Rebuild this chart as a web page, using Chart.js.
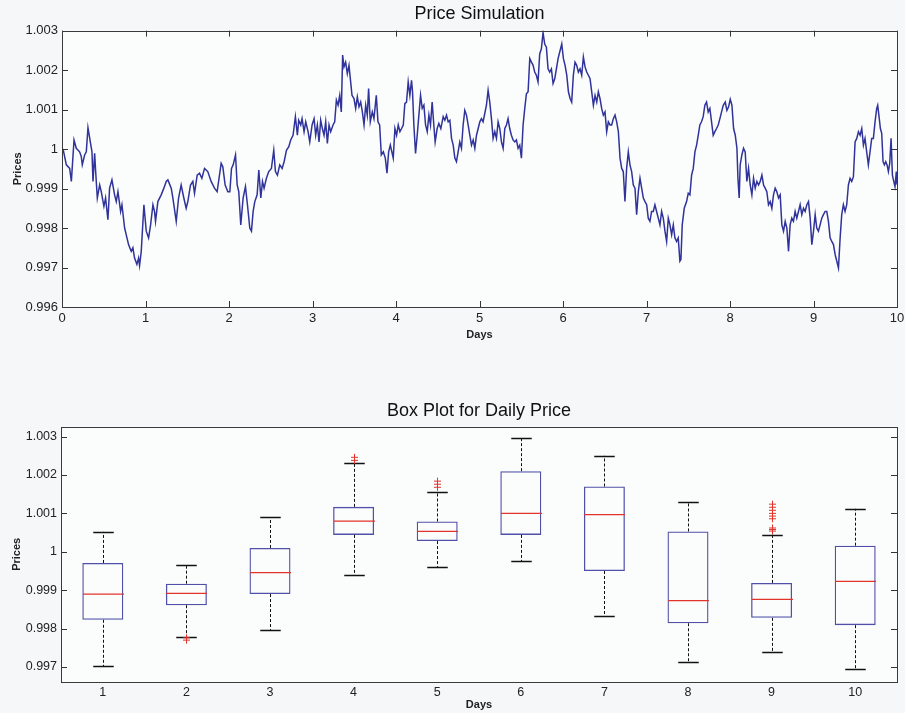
<!DOCTYPE html>
<html>
<head>
<meta charset="utf-8">
<title>Price Simulation</title>
<script src="https://cdn.jsdelivr.net/npm/chart.js@4.4.0/dist/chart.umd.min.js"></script>
<style>
  html, body { margin: 0; padding: 0; background: #f5f7f8; }
  #wrap { position: relative; width: 905px; height: 713px; }
  #simChart { position: absolute; left: 0; top: 0; }
  #boxChart { position: absolute; left: 0; top: 385px; }
</style>
</head>
<body>
<div id="wrap">
  <canvas id="simChart" width="905" height="345"></canvas>
  <canvas id="boxChart" width="905" height="328"></canvas>
</div>
<script>
// Simulação de preço
const days = [
  0.000, 0.016, 0.052, 0.092, 0.112, 0.144, 0.171, 0.211, 0.231, 0.243, 0.271, 0.291, 0.311, 0.339, 0.359, 0.371,
  0.391, 0.403, 0.423, 0.451, 0.470, 0.502, 0.522, 0.550, 0.570, 0.598, 0.630, 0.650, 0.670, 0.702, 0.718, 0.750,
  0.778, 0.797, 0.829, 0.849, 0.869, 0.897, 0.917, 0.929, 0.949, 0.981, 1.009, 1.037, 1.061, 1.089, 1.108, 1.120,
  1.148, 1.188, 1.220, 1.248, 1.268, 1.308, 1.328, 1.368, 1.396, 1.427, 1.459, 1.487, 1.507, 1.539, 1.567, 1.587,
  1.619, 1.647, 1.675, 1.707, 1.746, 1.786, 1.826, 1.858, 1.906, 1.926, 1.954, 1.986,
  2.010, 2.030, 2.050, 2.078, 2.098, 2.117, 2.141, 2.169, 2.197, 2.221, 2.249, 2.269, 2.289, 2.309, 2.337, 2.357,
  2.381, 2.401, 2.420, 2.448, 2.476, 2.508, 2.536, 2.556, 2.580, 2.608, 2.636, 2.660, 2.688, 2.716, 2.739, 2.767,
  2.795, 2.819, 2.835, 2.859, 2.875, 2.899, 2.919, 2.947, 2.967, 2.995, 3.019, 3.038, 3.058, 3.078, 3.098, 3.118,
  3.138, 3.158, 3.178, 3.198, 3.218, 3.246, 3.266, 3.286, 3.306, 3.326, 3.345, 3.361, 3.377, 3.397, 3.417, 3.437,
  3.457, 3.473, 3.497, 3.517, 3.537, 3.557, 3.577, 3.597, 3.617, 3.637, 3.656, 3.672, 3.692, 3.716, 3.736, 3.764,
  3.784, 3.804, 3.824, 3.848, 3.872, 3.892, 3.912, 3.932,
  3.967, 3.987, 4.007, 4.027, 4.047, 4.067, 4.087, 4.106, 4.126, 4.146, 4.166, 4.186, 4.198, 4.214, 4.234, 4.254,
  4.274, 4.294, 4.314, 4.334, 4.354, 4.374, 4.394, 4.413, 4.433, 4.453, 4.469, 4.493, 4.513, 4.537, 4.565, 4.585,
  4.605, 4.625, 4.645, 4.665, 4.685, 4.705, 4.724, 4.744, 4.764, 4.784, 4.804, 4.824, 4.844, 4.864, 4.884, 4.904,
  4.924, 4.944, 4.964, 4.984, 5.004, 5.023, 5.043, 5.063, 5.083, 5.103, 5.123, 5.143, 5.163, 5.183, 5.203, 5.223,
  5.243, 5.263, 5.283, 5.303, 5.323, 5.342, 5.362, 5.382, 5.402, 5.422, 5.442, 5.462, 5.482, 5.502, 5.522, 5.542,
  5.562, 5.582, 5.602, 5.622, 5.642, 5.661, 5.681, 5.701, 5.721, 5.741, 5.761, 5.781, 5.801, 5.821, 5.841, 5.861,
  5.881, 5.901, 5.921, 5.941,
  5.985, 6.005, 6.025, 6.045, 6.065, 6.085, 6.104, 6.124, 6.144, 6.164, 6.184, 6.204, 6.224, 6.244, 6.264, 6.284,
  6.304, 6.324, 6.344, 6.364, 6.384, 6.404, 6.423, 6.443, 6.463, 6.483, 6.503, 6.523, 6.543, 6.563, 6.583, 6.603,
  6.623, 6.643, 6.663, 6.683, 6.703, 6.722, 6.742, 6.762, 6.782, 6.802, 6.822, 6.842, 6.862, 6.882, 6.902, 6.922,
  6.942, 6.962, 6.982, 7.002, 7.021, 7.041, 7.061, 7.081, 7.101, 7.121, 7.141, 7.161, 7.181, 7.201, 7.221, 7.241,
  7.261, 7.281, 7.301, 7.321, 7.340, 7.360, 7.380, 7.400, 7.412, 7.428, 7.452, 7.480, 7.500, 7.520, 7.540, 7.560,
  7.580, 7.600, 7.620, 7.639, 7.659, 7.679, 7.699, 7.719, 7.739, 7.759, 7.779, 7.799, 7.819, 7.839, 7.859, 7.879,
  7.899, 7.919,
  7.943, 7.963, 7.983, 8.003, 8.023, 8.043, 8.063, 8.083, 8.095, 8.110, 8.122, 8.142, 8.162, 8.182, 8.202, 8.222,
  8.242, 8.262, 8.282, 8.302, 8.322, 8.342, 8.362, 8.382, 8.402, 8.421, 8.441, 8.461, 8.481, 8.501, 8.521, 8.541,
  8.561, 8.581, 8.601, 8.621, 8.641, 8.661, 8.681, 8.701, 8.720, 8.740, 8.760, 8.780, 8.800, 8.820, 8.840, 8.860,
  8.880, 8.900, 8.920, 8.940, 8.960, 8.980, 9.000, 9.020, 9.039, 9.059, 9.079, 9.099, 9.119, 9.139, 9.159, 9.179,
  9.199, 9.219, 9.239, 9.259, 9.279, 9.299, 9.319, 9.338, 9.358, 9.378, 9.398, 9.418, 9.438, 9.458, 9.478, 9.498,
  9.518, 9.538, 9.558, 9.578, 9.598, 9.617, 9.637, 9.657, 9.677, 9.697, 9.717, 9.737, 9.757, 9.769, 9.785, 9.801,
  9.817, 9.833, 9.849, 9.865, 9.881, 9.897, 9.913, 9.929, 9.945, 9.961, 9.976, 9.992, 10.000
];
const prices = [
  1.00002, 0.99997, 0.99960, 0.99951, 0.99918, 1.00023, 1.00002, 0.99993, 0.99981, 0.99960, 0.99985, 0.99993, 1.00054, 1.00018, 0.99993, 0.99918,
  0.99989, 0.99943, 0.99876, 0.99909, 0.99892, 0.99855, 0.99876, 0.99821, 0.99901, 0.99922, 0.99884, 0.99867, 0.99892, 0.99842, 0.99859, 0.99800,
  0.99775, 0.99758, 0.99741, 0.99750, 0.99724, 0.99708, 0.99724, 0.99705, 0.99741, 0.99859, 0.99792, 0.99775, 0.99808, 0.99859, 0.99842, 0.99817,
  0.99867, 0.99884, 0.99901, 0.99918, 0.99922, 0.99901, 0.99876, 0.99817, 0.99876, 0.99909, 0.99876, 0.99850, 0.99867, 0.99909, 0.99918, 0.99888,
  0.99934, 0.99939, 0.99926, 0.99951, 0.99943, 0.99918, 0.99901, 0.99892, 0.99964, 0.99955, 0.99909, 0.99892,
  0.99892, 0.99951, 0.99960, 0.99985, 0.99909, 0.99892, 0.99808, 0.99876, 0.99905, 0.99859, 0.99800, 0.99792, 0.99842, 0.99867, 0.99884, 0.99947,
  0.99876, 0.99918, 0.99901, 0.99926, 0.99943, 0.99951, 0.99997, 0.99943, 0.99934, 0.99960, 0.99951, 0.99968, 0.99997, 1.00006, 1.00023, 1.00035,
  1.00082, 1.00035, 1.00073, 1.00061, 1.00077, 1.00044, 1.00069, 1.00044, 1.00018, 1.00061, 1.00077, 1.00035, 1.00061, 1.00018, 1.00073, 1.00052,
  1.00035, 1.00069, 1.00014, 1.00061, 1.00044, 1.00061, 1.00069, 1.00124, 1.00111, 1.00136, 1.00094, 1.00238, 1.00208, 1.00220, 1.00191, 1.00212,
  1.00170, 1.00136, 1.00128, 1.00103, 1.00132, 1.00107, 1.00119, 1.00094, 1.00061, 1.00111, 1.00086, 1.00153, 1.00069, 1.00094, 1.00077, 1.00136,
  1.00069, 1.00061, 0.99985, 0.99993, 0.99977, 0.99939, 0.99993, 1.00010,
  0.99977, 1.00052, 1.00035, 1.00061, 1.00044, 1.00052, 1.00061, 1.00115, 1.00119, 1.00170, 1.00136, 1.00174, 1.00145, 1.00061, 0.99989, 1.00035,
  1.00086, 1.00136, 1.00103, 1.00111, 1.00061, 1.00044, 1.00086, 1.00061, 1.00119, 1.00061, 1.00018, 1.00052, 1.00065, 1.00052, 1.00082, 1.00073,
  1.00086, 1.00069, 1.00073, 1.00027, 1.00010, 0.99977, 0.99968, 0.99993, 1.00018, 1.00002, 1.00061, 1.00098, 1.00086, 1.00061, 1.00035, 1.00010,
  1.00023, 1.00002, 1.00035, 1.00052, 1.00069, 1.00077, 1.00069, 1.00090, 1.00111, 1.00149, 1.00119, 1.00077, 1.00027, 1.00044, 1.00027, 1.00069,
  1.00052, 1.00018, 1.00002, 1.00052, 1.00061, 1.00077, 1.00052, 1.00035, 1.00023, 1.00018, 1.00023, 1.00002, 1.00010, 0.99977, 1.00061, 1.00103,
  1.00140, 1.00145, 1.00229, 1.00220, 1.00212, 1.00195, 1.00187, 1.00170, 1.00241, 1.00254, 1.00295, 1.00266, 1.00258, 1.00203, 1.00195, 1.00203,
  1.00166, 1.00178, 1.00203, 1.00229,
  1.00266, 1.00229, 1.00212, 1.00187, 1.00145, 1.00128, 1.00119, 1.00187, 1.00220, 1.00212, 1.00195, 1.00203, 1.00187, 1.00233, 1.00208, 1.00195,
  1.00187, 1.00178, 1.00145, 1.00111, 1.00136, 1.00119, 1.00145, 1.00128, 1.00103, 1.00086, 1.00094, 1.00044, 1.00069, 1.00061, 1.00061, 1.00077,
  1.00086, 1.00069, 1.00044, 0.99977, 0.99951, 0.99943, 0.99867, 0.99951, 0.99993, 0.99960, 0.99943, 0.99909, 0.99901, 0.99834, 0.99892, 0.99926,
  0.99901, 0.99876, 0.99867, 0.99859, 0.99825, 0.99817, 0.99842, 0.99842, 0.99859, 0.99842, 0.99825, 0.99808, 0.99842, 0.99825, 0.99792, 0.99766,
  0.99825, 0.99808, 0.99783, 0.99808, 0.99775, 0.99766, 0.99775, 0.99716, 0.99720, 0.99808, 0.99850, 0.99867, 0.99888, 0.99884, 0.99934, 0.99951,
  0.99993, 1.00010, 1.00035, 1.00061, 1.00069, 1.00082, 1.00111, 1.00119, 1.00094, 1.00103, 1.00069, 1.00035, 1.00044, 1.00052, 1.00061, 1.00077,
  1.00094, 1.00111,
  1.00119, 1.00098, 1.00107, 1.00126, 1.00111, 1.00052, 1.00035, 1.00002, 0.99926, 0.99876, 0.99960, 0.99985, 1.00002, 0.99993, 0.99918, 0.99951,
  0.99909, 0.99884, 0.99926, 0.99901, 0.99918, 0.99909, 0.99918, 0.99934, 0.99909, 0.99901, 0.99892, 0.99859, 0.99867, 0.99850, 0.99884, 0.99901,
  0.99892, 0.99876, 0.99884, 0.99808, 0.99792, 0.99817, 0.99800, 0.99741, 0.99808, 0.99825, 0.99817, 0.99842, 0.99825, 0.99842, 0.99859, 0.99834,
  0.99850, 0.99842, 0.99859, 0.99867, 0.99825, 0.99758, 0.99792, 0.99834, 0.99800, 0.99792, 0.99808, 0.99825, 0.99834, 0.99842, 0.99842, 0.99817,
  0.99775, 0.99766, 0.99758, 0.99733, 0.99716, 0.99699, 0.99775, 0.99834, 0.99859, 0.99842, 0.99859, 0.99909, 0.99926, 0.99918, 0.99930, 1.00018,
  1.00027, 1.00044, 1.00035, 1.00052, 1.00010, 1.00027, 0.99993, 0.99960, 0.99993, 1.00027, 1.00027, 1.00069, 1.00103, 1.00111, 1.00082, 1.00052,
  1.00040, 0.99968, 0.99960, 0.99968, 0.99960, 0.99943, 0.99964, 1.00027, 0.99934, 0.99918, 0.99905, 0.99943, 0.99910
];
const dayTicks = [0, 1, 2, 3, 4, 5, 6, 7, 8, 9, 10];
const priceTicks = [0.996, 0.997, 0.998, 0.999, 1.000, 1.001, 1.002, 1.003];

// Box plot por dia
const boxDays = ['1', '2', '3', '4', '5', '6', '7', '8', '9', '10'];
const boxLow = [0.99702, 0.99778, 0.99796, 0.99939, 0.99960, 0.99975, 0.99832, 0.99712, 0.99738, 0.99696];
const boxQ1 = [0.99823, 0.99861, 0.99890, 1.00044, 1.00028, 1.00044, 0.99950, 0.99814, 0.99828, 0.99809];
const boxMedian = [0.99890, 0.99892, 0.99946, 1.00080, 1.00053, 1.00100, 1.00097, 0.99873, 0.99876, 0.99923];
const boxQ3 = [0.99971, 0.99917, 1.00010, 1.00117, 1.00079, 1.00210, 1.00170, 1.00053, 0.99919, 1.00016];
const boxHigh = [1.00052, 0.99966, 1.00090, 1.00230, 1.00157, 1.00297, 1.00250, 1.00130, 1.00044, 1.00112];
const boxOutliers = [
  [],
  [0.99776, 0.99770],
  [],
  [1.00238, 1.00246],
  [1.00168, 1.00176, 1.00184],
  [],
  [],
  [],
  [1.00054, 1.00058, 1.00062, 1.00086, 1.00093, 1.00100, 1.00108, 1.00116, 1.00124],
  []
];
const boxTicks = [0.997, 0.998, 0.999, 1.000, 1.001, 1.002, 1.003];

const FONT = "'Liberation Sans', Arial, Helvetica, sans-serif";
const tickFontTop = { family: FONT, size: 13 };
const tickFontBox = { family: FONT, size: 12.5 };
const labelFont = { family: FONT, size: 11, weight: 'bold' };
const titleFont = { family: FONT, size: 18, weight: 'normal' };

function fmt(v) {
  return String(Number(Number(v).toFixed(3)));
}

// moldura estilo MATLAB com ticks para dentro
function framePlugin(tickX, tickY) {
  return {
    id: 'frame',
    beforeDraw(chart) {
      const { ctx, chartArea: a } = chart;
      ctx.save();
      ctx.fillStyle = '#fbfcfc';
      ctx.fillRect(a.left, a.top, a.right - a.left, a.bottom - a.top);
      ctx.restore();
    },
    afterDraw(chart) {
      const { ctx, chartArea: a } = chart;
      const len = 6;
      ctx.save();
      ctx.strokeStyle = '#333';
      ctx.lineWidth = 1;
      ctx.beginPath();
      if (tickX) {
        chart.scales.x.ticks.forEach(t => {
          const px = Math.round(chart.scales.x.getPixelForValue(t.value)) + 0.5;
          ctx.moveTo(px, a.bottom); ctx.lineTo(px, a.bottom - len);
          ctx.moveTo(px, a.top); ctx.lineTo(px, a.top + len);
        });
      }
      if (tickY) {
        chart.scales.y.ticks.forEach(t => {
          const py = Math.round(chart.scales.y.getPixelForValue(t.value)) + 0.5;
          ctx.moveTo(a.left, py); ctx.lineTo(a.left + len, py);
          ctx.moveTo(a.right, py); ctx.lineTo(a.right - len, py);
        });
      }
      ctx.stroke();
      ctx.strokeStyle = '#3a3a3a';
      ctx.strokeRect(Math.round(a.left) + 0.5, Math.round(a.top) + 0.5,
        Math.round(a.right - a.left), Math.round(a.bottom - a.top));
      ctx.restore();
    }
  };
}

function createSimChart() {
  new Chart(document.getElementById('simChart'), {
    type: 'line',
    data: {
      datasets: [{
        data: days.map((d, i) => ({ x: d, y: prices[i] })),
        borderColor: '#30339a',
        borderWidth: 1.5,
        pointRadius: 0,
        pointHoverRadius: 0,
        tension: 0
      }]
    },
    options: {
      responsive: false,
      animation: false,
      layout: { autoPadding: false, padding: { left: 0, right: 8, top: 0, bottom: 0 } },
      plugins: {
        legend: { display: false },
        tooltip: { enabled: false },
        title: {
          display: true, text: 'Price Simulation', fullSize: false,
          color: '#111', font: titleFont, padding: { top: 3, bottom: 6 }
        }
      },
      scales: {
        x: {
          type: 'linear', min: 0, max: 10,
          afterBuildTicks: s => { s.ticks = dayTicks.map(v => ({ value: v })); },
          afterFit: s => { s.height = 38; s.paddingLeft = 0; s.paddingRight = 0; },
          grid: { display: false, drawTicks: false },
          border: { display: false },
          ticks: { color: '#222', font: tickFontTop, padding: 4, maxRotation: 0, callback: v => fmt(v) },
          title: { display: true, text: 'Days', color: '#222', font: labelFont, padding: { top: 0, bottom: 3 } }
        },
        y: {
          min: 0.996, max: 1.003,
          afterBuildTicks: s => { s.ticks = priceTicks.map(v => ({ value: v })); },
          afterFit: s => { s.width = 62; },
          grid: { display: false, drawTicks: false },
          border: { display: false },
          ticks: { color: '#222', font: tickFontTop, padding: 4, callback: v => fmt(v) },
          title: { display: true, text: 'Prices', color: '#222', font: labelFont, padding: { top: 11, bottom: 0 } }
        }
      }
    },
    plugins: [framePlugin(true, true)]
  });
}

// desenha bigodes, mediana e outliers em cima das barras flutuantes
const boxPlugin = {
  id: 'boxExtras',
  afterDatasetsDraw(chart) {
    const { ctx } = chart;
    const x = chart.scales.x, y = chart.scales.y;
    const bars = chart.getDatasetMeta(0).data;
    ctx.save();
    boxDays.forEach((d, i) => {
      const cx = Math.round(x.getPixelForValue(i)) + 0.5;
      const hw = bars[i].width / 2;
      const cap = hw / 2;
      const pLow = y.getPixelForValue(boxLow[i]);
      const pQ1 = y.getPixelForValue(boxQ1[i]);
      const pQ3 = y.getPixelForValue(boxQ3[i]);
      const pHigh = y.getPixelForValue(boxHigh[i]);
      const pMed = y.getPixelForValue(boxMedian[i]);

      ctx.strokeStyle = '#111';
      ctx.lineWidth = 1;
      ctx.setLineDash([3, 2]);
      ctx.beginPath();
      ctx.moveTo(cx, pQ3); ctx.lineTo(cx, pHigh);
      ctx.moveTo(cx, pQ1); ctx.lineTo(cx, pLow);
      ctx.stroke();
      ctx.setLineDash([]);
      ctx.lineWidth = 1.3;
      ctx.beginPath();
      ctx.moveTo(cx - cap, Math.round(pHigh) + 0.5); ctx.lineTo(cx + cap, Math.round(pHigh) + 0.5);
      ctx.moveTo(cx - cap, Math.round(pLow) + 0.5); ctx.lineTo(cx + cap, Math.round(pLow) + 0.5);
      ctx.stroke();

      ctx.strokeStyle = '#e3342b';
      ctx.lineWidth = 1.3;
      ctx.beginPath();
      ctx.moveTo(cx - hw, pMed); ctx.lineTo(cx + hw, pMed);
      ctx.stroke();

      ctx.lineWidth = 1;
      ctx.beginPath();
      boxOutliers[i].forEach(v => {
        const py = y.getPixelForValue(v);
        ctx.moveTo(cx - 3.5, py); ctx.lineTo(cx + 3.5, py);
        ctx.moveTo(cx, py - 3.5); ctx.lineTo(cx, py + 3.5);
      });
      ctx.stroke();
    });
    ctx.restore();
  }
};

function createBoxChart() {
  new Chart(document.getElementById('boxChart'), {
    type: 'bar',
    data: {
      labels: boxDays,
      datasets: [{
        data: boxQ1.map((q, i) => [q, boxQ3[i]]),
        backgroundColor: 'rgba(255,255,255,0)',
        borderColor: '#5050a8',
        borderWidth: 1.3,
        borderSkipped: false,
        barPercentage: 0.49,
        categoryPercentage: 1
      }]
    },
    options: {
      responsive: false,
      animation: false,
      layout: { autoPadding: false, padding: { left: 0, right: 8, top: 0, bottom: 0 } },
      plugins: {
        legend: { display: false },
        tooltip: { enabled: false },
        title: {
          display: true, text: 'Box Plot for Daily Price', fullSize: false,
          color: '#111', font: titleFont, padding: { top: 15, bottom: 5 }
        }
      },
      scales: {
        x: {
          type: 'category', offset: true,
          afterFit: s => { s.height = 31; },
          grid: { display: false, drawTicks: false },
          border: { display: false },
          ticks: { color: '#222', font: tickFontBox, padding: 3, maxRotation: 0 },
          title: { display: true, text: 'Days', color: '#222', font: labelFont, padding: { top: 0, bottom: 1 } }
        },
        y: {
          min: 0.99661, max: 1.00326,
          afterBuildTicks: s => { s.ticks = boxTicks.map(v => ({ value: v })); },
          afterFit: s => { s.width = 61; },
          grid: { display: false, drawTicks: false },
          border: { display: false },
          ticks: { color: '#222', font: tickFontBox, padding: 4, callback: v => fmt(v) },
          title: { display: true, text: 'Prices', color: '#222', font: labelFont, padding: { top: 10, bottom: 0 } }
        }
      }
    },
    plugins: [framePlugin(false, true), boxPlugin]
  });
}

createSimChart();
createBoxChart();
</script>
</body>
</html>
